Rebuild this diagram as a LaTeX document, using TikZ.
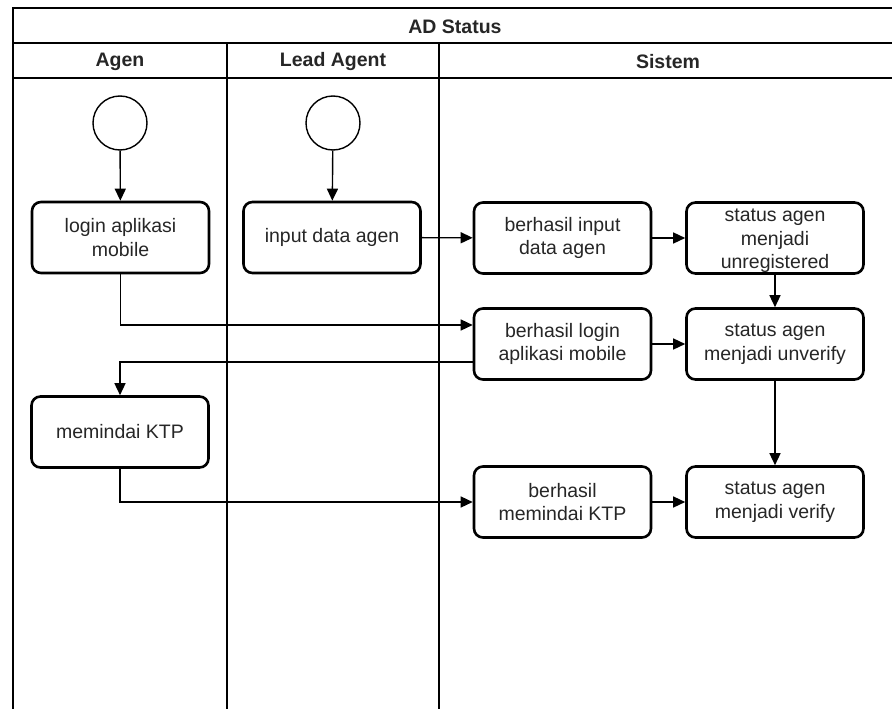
\documentclass[tikz,border=0pt]{standalone}
\usepackage{fontspec}
\setmainfont{Liberation Sans}
\usetikzlibrary{arrows.meta}
\begin{document}
\begin{tikzpicture}[x=1pt,y=-1pt,
  lane/.style={draw=black, line width=1.2pt},
  hdr/.style={font=\fontsize{19.5}{22}\selectfont\bfseries, inner sep=0, text=black!85},
  act/.style={draw=black, line width=2.6pt, rounded corners=9pt, minimum width=177pt, minimum height=71pt, align=center, font=\fontsize{19.5}{23.5}\selectfont, inner sep=0pt, text=black!85},
  start/.style={circle, draw=black, line width=1.4pt, minimum size=54pt, inner sep=0},
  flow/.style={-{Triangle[length=12pt,width=11pt]}, line width=1.4pt}]
\useasboundingbox (0,0) rectangle (892,709);
\begin{scope}
\clip (0,0) rectangle (892,709);
\draw[lane] (13,8) rectangle (897,730);
\draw[lane] (13,43) -- (897,43);
\draw[lane] (13,78) -- (897,78);
\draw[lane] (227,43) -- (227,730);
\draw[lane] (439,43) -- (439,730);
\end{scope}
\node[hdr] (title) at (455,27) {AD Status};
\node[hdr] (h1) at (120,62) {Agen};
\node[hdr] (h2) at (333,62) {Lead Agent};
\node[hdr] (h3) at (668,62) {Sistem};

\node[start] (s1) at (120,123) {};
\node[start] (s2) at (333,123) {};
\node[act] (login) at (120.5,237.5) {login aplikasi\\mobile};
\node[act] (input) at (332,237.5) {input data agen};
\node[act] (bi) at (562.5,238) {berhasil input\\data agen};
\node[act] (unreg) at (775,238) {};
\node[font=\fontsize{19.5}{23.5}\selectfont, align=center, inner sep=0, text=black!85] (unregt) at (775,241) {status agen\\menjadi\\unregistered};
\node[act] (bl) at (562.5,344) {berhasil login\\aplikasi mobile};
\node[act] (unv) at (775,344) {status agen\\menjadi unverify};
\node[act] (ktp) at (120,432) {memindai KTP};
\node[act] (bk) at (562.5,502) {berhasil\\memindai KTP};
\node[act] (ver) at (775,502) {status agen\\menjadi verify};

\draw[flow] (s1) -- (login);
\draw[flow] (s2) -- (input);
\draw[flow] (input) -- (bi);
\draw[flow] (bi) -- (unreg);
\draw[flow] (unreg) -- (unv);
\draw[flow] (login.south) |- ([yshift=19pt]bl.west);
\draw[flow] ([yshift=-18pt]bl.west) -| (ktp.north);
\draw[flow] (bl) -- (unv);
\draw[flow] (ktp.south) |- (bk.west);
\draw[flow] (bk) -- (ver);
\draw[flow] (unv) -- (ver);
\end{tikzpicture}
\end{document}
